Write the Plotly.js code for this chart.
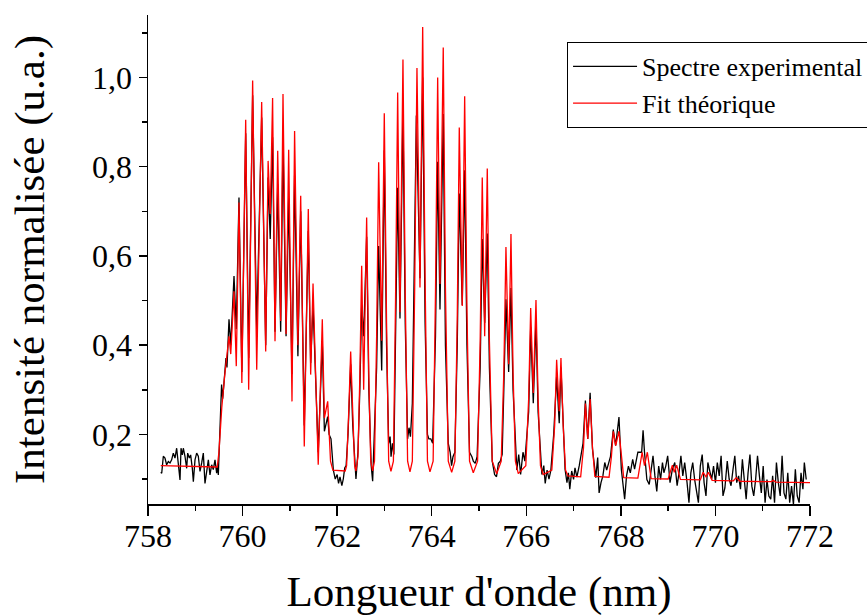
<!DOCTYPE html>
<html>
<head>
<meta charset="utf-8">
<script src="https://cdn.plot.ly/plotly-3.0.1.min.js"></script>
<style>html,body{margin:0;padding:0;background:#fff;}#chart{width:867px;height:616px;}</style>
</head>
<body>
<div id="chart"></div>
<script>
// Wavelength (nm), normalised intensity pairs
const experimental = [
[758.27,0.115],[758.29,0.113],[758.324,0.151],[758.359,0.147],[758.394,0.132],[758.43,0.139],[758.465,0.136],[758.50,0.143],
[758.535,0.158],[758.571,0.147],[758.606,0.169],[758.641,0.139],[758.677,0.098],[758.698,0.169],[758.726,0.154],[758.747,0.169],
[758.782,0.151],[758.818,0.124],[758.839,0.158],[758.874,0.147],[758.902,0.154],[758.937,0.124],[758.959,0.094],[758.994,0.143],
[759.029,0.158],[759.064,0.151],[759.10,0.117],[759.135,0.136],[759.17,0.158],[759.205,0.090],[759.24,0.117],[759.276,0.143],
[759.311,0.109],[759.346,0.132],[759.381,0.121],[759.417,0.143],[759.452,0.113],[759.473,0.132],[759.487,0.109],
[759.52,0.22],[759.556,0.312],[759.58,0.28],[759.649,0.371],[759.67,0.35],[759.713,0.458],[759.75,0.40],[759.819,0.555],
[759.867,0.436],[759.924,0.731],[759.985,0.34],[760.066,0.875],[760.129,0.371],[760.213,0.96],[760.299,0.436],[760.404,0.91],
[760.489,0.40],[760.54,0.776],[760.585,0.638],[760.635,0.866],[760.686,0.43],[760.743,0.761],[760.806,0.43],[760.855,0.858],
[760.92,0.42],[760.975,0.73],[761.045,0.335],[761.10,0.78],[761.17,0.375],[761.229,0.70],[761.305,0.22],[761.39,0.656],
[761.44,0.36],[761.49,0.49],[761.60,0.16],[761.686,0.409],[761.73,0.207],[761.80,0.24],[761.83,0.20],[761.87,0.19],
[761.92,0.12],[761.96,0.10],[762.0,0.11],[762.03,0.09],[762.06,0.105],[762.10,0.085],[762.13,0.10],[762.16,0.125],[762.19,0.13],
[762.23,0.20],[762.286,0.357],[762.33,0.22],[762.398,0.10],[762.44,0.16],[762.48,0.30],[762.519,0.49],[762.561,0.42],
[762.624,0.643],[762.67,0.30],[762.72,0.13],[762.751,0.095],[762.79,0.21],[762.835,0.35],[762.878,0.622],[762.942,0.343],
[762.997,0.837],[763.045,0.40],[763.09,0.18],[763.12,0.195],[763.14,0.15],[763.17,0.18],[763.20,0.155],[763.235,0.40],
[763.28,0.753],[763.329,0.46],[763.392,0.926],[763.44,0.45],[763.49,0.19],[763.52,0.215],[763.55,0.195],[763.59,0.27],
[763.675,0.915],[763.752,0.55],[763.809,1.0],[763.86,0.45],[763.91,0.20],[763.94,0.19],[763.98,0.19],[764.02,0.18],
[764.08,0.42],[764.126,0.811],[764.175,0.48],[764.244,0.918],[764.29,0.40],[764.35,0.18],[764.39,0.16],[764.42,0.13],
[764.45,0.15],[764.49,0.16],[764.54,0.40],[764.583,0.74],[764.646,0.49],[764.697,0.792],[764.745,0.40],[764.80,0.16],
[764.85,0.15],[764.88,0.14],[764.92,0.135],[764.96,0.15],[765.025,0.35],[765.069,0.638],[765.12,0.45],[765.175,0.65],
[765.22,0.35],[765.28,0.14],[765.33,0.11],[765.37,0.105],[765.41,0.135],[765.45,0.14],[765.49,0.155],[765.525,0.30],
[765.57,0.503],[765.627,0.34],[765.676,0.528],[765.72,0.30],[765.77,0.17],[765.80,0.12],[765.84,0.155],[765.88,0.11],
[765.93,0.16],[765.97,0.14],[766.05,0.25],[766.093,0.44],[766.148,0.27],[766.205,0.454],[766.25,0.25],[766.30,0.15],
[766.33,0.11],[766.37,0.13],[766.40,0.09],[766.44,0.12],[766.48,0.10],[766.52,0.12],[766.58,0.20],[766.642,0.33],
[766.697,0.225],[766.733,0.35],[766.78,0.20],[766.82,0.122],[766.86,0.092],[766.89,0.114],[766.92,0.077],[766.96,0.118],
[767.0,0.099],[767.03,0.125],[767.07,0.104],[767.12,0.13],[767.20,0.18],[767.25,0.276],[767.30,0.19],[767.35,0.293],
[767.40,0.167],[767.43,0.144],[767.47,0.103],[767.51,0.148],[767.54,0.069],[767.58,0.092],[767.62,0.107],[767.66,0.137],
[767.70,0.12],[767.78,0.15],[767.84,0.211],[767.89,0.175],[767.96,0.239],[768.01,0.122],[768.04,0.092],[768.08,0.055],
[768.12,0.107],[768.16,0.129],[768.20,0.114],[768.25,0.144],[768.29,0.122],[768.36,0.16],[768.44,0.16],[768.47,0.209],
[768.50,0.16],[768.55,0.099],[768.60,0.088],[768.64,0.122],[768.68,0.152],[768.72,0.107],[768.76,0.072],[768.80,0.129],
[768.84,0.099],[768.88,0.137],[768.91,0.114],[768.95,0.129],[768.99,0.152],[769.04,0.092],[769.09,0.122],[769.14,0.137],
[769.19,0.085],[769.23,0.114],[769.27,0.152],[769.31,0.107],[769.35,0.137],[769.40,0.092],[769.44,0.047],[769.48,0.114],
[769.52,0.137],[769.56,0.099],[769.60,0.069],[769.64,0.047],[769.68,0.129],[769.72,0.155],[769.76,0.092],[769.80,0.062],
[769.84,0.137],[769.88,0.114],[769.92,0.099],[769.96,0.129],[770.0,0.092],[770.04,0.137],[770.08,0.107],[770.12,0.152],
[770.16,0.062],[770.20,0.080],[770.25,0.14],[770.29,0.10],[770.33,0.085],[770.37,0.12],[770.41,0.152],[770.45,0.092],
[770.49,0.107],[770.53,0.077],[770.57,0.144],[770.61,0.099],[770.65,0.055],[770.69,0.114],[770.73,0.155],[770.77,0.084],
[770.81,0.062],[770.85,0.099],[770.89,0.152],[770.93,0.107],[770.97,0.069],[771.01,0.129],[771.05,0.047],[771.09,0.099],
[771.13,0.062],[771.17,0.055],[771.21,0.107],[771.25,0.047],[771.29,0.137],[771.33,0.092],[771.37,0.062],[771.41,0.152],
[771.45,0.069],[771.49,0.055],[771.53,0.114],[771.57,0.047],[771.61,0.084],[771.65,0.043],[771.69,0.122],[771.73,0.062],
[771.77,0.047],[771.81,0.114],[771.85,0.077],[771.88,0.137],[771.92,0.099]
];

const theoreticalFit = [
[758.27,0.130],[758.8,0.129],[759.3,0.128],[759.465,0.127],[759.50,0.16],[759.56,0.26],[759.62,0.33],[759.66,0.37],
[759.713,0.42],[759.75,0.38],[759.819,0.521],[759.867,0.353],[759.924,0.72],[759.985,0.315],[760.066,0.905],[760.129,0.30],
[760.213,0.993],[760.299,0.345],[760.404,0.945],[760.489,0.386],[760.54,0.813],[760.585,0.694],[760.635,0.954],[760.686,0.409],
[760.743,0.836],[760.806,0.454],[760.855,0.963],[760.92,0.425],[760.975,0.838],[761.045,0.274],[761.10,0.88],[761.17,0.40],
[761.229,0.735],[761.305,0.173],[761.39,0.705],[761.44,0.334],[761.49,0.538],[761.60,0.132],[761.686,0.458],[761.73,0.237],
[761.80,0.274],[761.86,0.14],[761.91,0.12],[762.17,0.118],[762.20,0.13],[762.245,0.25],[762.286,0.386],[762.33,0.25],
[762.37,0.13],[762.398,0.118],[762.44,0.15],[762.48,0.33],[762.519,0.578],[762.561,0.30],[762.624,0.686],[762.67,0.33],
[762.71,0.14],[762.751,0.118],[762.79,0.14],[762.835,0.42],[762.878,0.81],[762.942,0.41],[762.997,0.92],[763.045,0.45],
[763.09,0.14],[763.138,0.117],[763.19,0.14],[763.235,0.50],[763.28,0.966],[763.329,0.474],[763.392,1.04],[763.44,0.52],
[763.49,0.14],[763.54,0.116],[763.59,0.14],[763.64,0.53],[763.688,1.021],[763.752,0.529],[763.809,1.113],[763.86,0.55],
[763.91,0.14],[763.963,0.116],[764.03,0.14],[764.08,0.52],[764.126,1.0],[764.175,0.537],[764.244,1.067],[764.29,0.53],
[764.35,0.14],[764.422,0.115],[764.49,0.14],[764.54,0.46],[764.583,0.888],[764.646,0.488],[764.697,0.958],[764.745,0.48],
[764.80,0.14],[764.879,0.114],[764.97,0.14],[765.025,0.41],[765.069,0.776],[765.12,0.42],[765.175,0.796],[765.22,0.41],
[765.28,0.14],[765.374,0.112],[765.47,0.14],[765.525,0.34],[765.57,0.62],[765.627,0.357],[765.676,0.649],[765.72,0.34],
[765.77,0.14],[765.831,0.112],[765.99,0.13],[766.05,0.28],[766.093,0.483],[766.148,0.293],[766.205,0.501],[766.25,0.28],
[766.30,0.13],[766.359,0.11],[766.54,0.12],[766.60,0.22],[766.642,0.367],[766.697,0.252],[766.733,0.371],[766.78,0.22],
[766.83,0.12],[766.88,0.107],[767.15,0.105],[767.21,0.17],[767.25,0.269],[767.30,0.19],[767.35,0.279],[767.40,0.17],
[767.45,0.106],[767.75,0.104],[767.80,0.15],[767.84,0.207],[767.89,0.175],[767.96,0.207],[768.01,0.15],[768.06,0.103],
[768.36,0.102],[768.45,0.16],[768.50,0.13],[768.56,0.16],[768.64,0.101],[769.0,0.10],[769.09,0.131],[769.13,0.115],
[769.18,0.131],[769.26,0.099],[769.68,0.098],[769.74,0.115],[769.80,0.105],[769.85,0.115],[769.93,0.097],[770.38,0.096],
[770.44,0.103],[770.52,0.095],[771.18,0.094],[771.22,0.097],[771.28,0.093],[772.0,0.092]
];

const seriesNames = ['Spectre experimental', 'Fit théorique'];
const xTickVals = [758, 760, 762, 764, 766, 768, 770, 772];
const xTickText = ['758', '760', '762', '764', '766', '768', '770', '772'];
const xMinorVals = [759, 761, 763, 765, 767, 769, 771];
const yTickVals = [0.2, 0.4, 0.6, 0.8, 1.0];
const yTickText = ['0,2', '0,4', '0,6', '0,8', '1,0'];
const yMinorVals = [0.1, 0.3, 0.5, 0.7, 0.9, 1.1];
const xTitle = "Longueur d'onde (nm)";
const yTitle = 'Intensité normalisée (u.a.)';

const serif = 'Liberation Serif';

const traces = [
  {
    x: experimental.map(p => p[0]), y: experimental.map(p => p[1]),
    type: 'scatter', mode: 'lines', name: seriesNames[0],
    line: {color: '#000000', width: 1.3}
  },
  {
    x: theoreticalFit.map(p => p[0]), y: theoreticalFit.map(p => p[1]),
    type: 'scatter', mode: 'lines', name: seriesNames[1],
    line: {color: '#ff0000', width: 1.3}
  }
];

const layout = {
  width: 867, height: 616,
  margin: {l: 148, r: 57, t: 15, b: 112, pad: 0, autoexpand: false},
  paper_bgcolor: '#ffffff', plot_bgcolor: '#ffffff',
  font: {family: serif, color: '#000000'},
  showlegend: true,
  legend: {
    x: 0.633, y: 0.945, xanchor: 'left', yanchor: 'top',
    bgcolor: '#ffffff', bordercolor: '#000000', borderwidth: 1,
    font: {family: serif, size: 26, color: '#000000'},
    itemwidth: 64, tracegroupgap: 0
  },
  xaxis: {
    range: [758, 772], showgrid: false, zeroline: false,
    showline: true, linecolor: '#000000', linewidth: 1.5,
    ticks: 'outside', ticklen: 10, tickwidth: 1.5, tickcolor: '#000000',
    ticklabelstandoff: -7,
    tickmode: 'array', tickvals: xTickVals, ticktext: xTickText,
    minor: {ticks: 'outside', ticklen: 5, tickwidth: 1.5, tickcolor: '#000000', tickmode: 'array', tickvals: xMinorVals},
    tickfont: {family: serif, size: 32, color: '#000000'},
    title: {text: xTitle, font: {family: serif, size: 43, color: '#000000'}, standoff: 29}
  },
  yaxis: {
    range: [0.044, 1.14], showgrid: false, zeroline: false,
    showline: true, linecolor: '#000000', linewidth: 1.5,
    ticks: 'outside', ticklen: 8, tickwidth: 1.5, tickcolor: '#000000',
    tickmode: 'array', tickvals: yTickVals, ticktext: yTickText,
    minor: {ticks: 'outside', ticklen: 5, tickwidth: 1.5, tickcolor: '#000000', tickmode: 'array', tickvals: yMinorVals},
    tickfont: {family: serif, size: 32, color: '#000000'},
    title: {text: yTitle, font: {family: serif, size: 43, color: '#000000'}, standoff: 34}
  }
};

Plotly.newPlot('chart', traces, layout, {displayModeBar: false, staticPlot: true});
</script>
</body>
</html>
